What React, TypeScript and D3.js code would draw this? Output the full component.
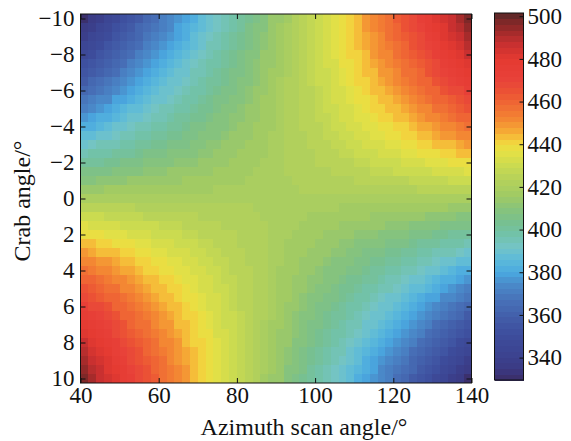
import React, { useRef, useEffect } from "react";
import * as d3 from "d3";

// cell centres (azimuth scan angle, deg) and rows (crab angle, deg)
const azimuth = [41, 43, 45, 47, 49, 51, 53, 55, 57, 59, 61, 63, 65, 67, 69, 71, 73, 75, 77, 79, 81, 83, 85, 87, 89,
  91, 93, 95, 97, 99, 101, 103, 105, 107, 109, 111, 113, 115, 117, 119, 121, 123, 125, 127, 129, 131, 133, 135, 137, 139];
const crab = [-10, -9.5, -9, -8.5, -8, -7.5, -7, -6.5, -6, -5.5, -5, -4.5, -4, -3.5, -3, -2.5, -2, -1.5, -1, -0.5, 0,
  0.5, 1, 1.5, 2, 2.5, 3, 3.5, 4, 4.5, 5, 5.5, 6, 6.5, 7, 7.5, 8, 8.5, 9, 9.5, 10];

// values, one row per crab angle (top to bottom)
const values = [
  [331,335,340,344,348,352,355,359,363,366,370,373,376,380,383,386,389,392,395,398,401,404,407,410,413,415,418,421,424,427,430,433,436,439,442,445,448,452,455,458,462,465,469,473,476,480,484,488,493,497],
  [335,339,343,347,351,355,358,362,365,369,372,375,378,381,385,388,391,393,396,399,402,405,408,410,413,416,419,422,424,427,430,433,436,439,442,445,448,451,454,457,461,464,467,471,475,478,482,486,490,494],
  [339,343,347,350,354,358,361,364,368,371,374,377,380,383,386,389,392,395,398,400,403,406,408,411,414,416,419,422,424,427,430,433,435,438,441,444,447,450,453,456,459,462,466,469,473,476,480,484,487,491],
  [343,347,350,354,357,361,364,367,371,374,377,380,383,385,388,391,394,396,399,402,404,407,409,412,414,417,420,422,425,427,430,432,435,438,440,443,446,449,452,455,458,461,464,467,471,474,478,481,485,489],
  [347,350,354,357,361,364,367,370,373,376,379,382,385,387,390,393,395,398,400,403,405,408,410,413,415,417,420,422,425,427,430,432,435,437,440,442,445,448,451,453,456,459,462,465,468,472,475,478,482,486],
  [351,354,358,361,364,367,370,373,376,379,381,384,387,389,392,394,397,399,402,404,406,409,411,413,415,418,420,422,425,427,429,432,434,437,439,441,444,447,449,452,455,457,460,463,466,469,472,476,479,482],
  [355,358,361,364,367,370,373,376,379,381,384,386,389,391,394,396,398,401,403,405,407,409,412,414,416,418,420,423,425,427,429,431,434,436,438,441,443,445,448,450,453,456,458,461,464,467,470,473,476,479],
  [359,362,365,368,371,374,376,379,381,384,386,389,391,393,395,398,400,402,404,406,408,410,412,414,416,419,421,423,425,427,429,431,433,435,437,440,442,444,446,449,451,454,456,459,461,464,467,470,473,476],
  [363,366,369,372,374,377,379,382,384,386,389,391,393,395,397,399,401,403,405,407,409,411,413,415,417,419,421,423,424,426,428,430,432,434,436,438,440,443,445,447,449,452,454,456,459,461,464,467,469,472],
  [368,370,373,375,378,380,383,385,387,389,391,393,395,397,399,401,403,405,407,408,410,412,414,416,417,419,421,423,424,426,428,430,432,433,435,437,439,441,443,445,447,449,452,454,456,459,461,463,466,469],
  [372,375,377,379,381,384,386,388,390,392,394,396,397,399,401,403,404,406,408,410,411,413,414,416,418,419,421,423,424,426,427,429,431,433,434,436,438,440,441,443,445,447,449,451,453,456,458,460,462,465],
  [377,379,381,383,385,387,389,391,393,394,396,398,400,401,403,404,406,408,409,411,412,414,415,417,418,420,421,422,424,425,427,428,430,432,433,435,436,438,440,441,443,445,447,449,451,452,455,457,459,461],
  [381,383,385,387,389,391,392,394,396,397,399,400,402,403,405,406,408,409,410,412,413,414,416,417,418,420,421,422,424,425,426,428,429,430,432,433,435,436,438,439,441,442,444,446,447,449,451,453,455,457],
  [386,388,389,391,393,394,396,397,399,400,401,403,404,405,407,408,409,410,412,413,414,415,416,418,419,420,421,422,423,425,426,427,428,429,431,432,433,435,436,437,439,440,441,443,444,446,448,449,451,453],
  [391,392,394,395,396,398,399,400,402,403,404,405,406,407,409,410,411,412,413,414,415,416,417,418,419,420,421,422,423,424,425,426,427,428,429,430,432,433,434,435,436,437,439,440,441,443,444,445,447,448],
  [395,397,398,399,400,401,402,403,405,406,407,408,409,409,410,411,412,413,414,415,416,417,417,418,419,420,421,422,423,423,424,425,426,427,428,429,430,431,432,433,434,435,436,437,438,439,440,441,443,444],
  [400,401,402,403,404,405,406,407,408,408,409,410,411,412,412,413,414,415,415,416,417,417,418,419,419,420,421,422,422,423,424,424,425,426,426,427,428,429,430,430,431,432,433,434,435,436,436,437,438,439],
  [405,406,407,407,408,409,409,410,411,411,412,413,413,414,414,415,415,416,416,417,418,418,419,419,420,420,421,421,422,422,423,423,424,424,425,426,426,427,427,428,429,429,430,430,431,432,433,433,434,435],
  [410,410,411,411,412,412,413,413,414,414,415,415,415,416,416,416,417,417,418,418,418,419,419,419,420,420,420,421,421,421,422,422,423,423,423,424,424,424,425,425,426,426,427,427,427,428,428,429,429,430],
  [415,415,415,416,416,416,416,417,417,417,417,417,418,418,418,418,418,419,419,419,419,419,420,420,420,420,420,420,421,421,421,421,421,422,422,422,422,422,423,423,423,423,423,424,424,424,424,425,425,425],
  [420,420,420,420,420,420,420,420,420,420,420,420,420,420,420,420,420,420,420,420,420,420,420,420,420,420,420,420,420,420,420,420,420,420,420,420,420,420,420,420,420,420,420,420,420,420,420,420,420,420],
  [425,425,425,424,424,424,424,423,423,423,423,423,422,422,422,422,422,421,421,421,421,421,420,420,420,420,420,420,419,419,419,419,419,418,418,418,418,418,417,417,417,417,417,416,416,416,416,415,415,415],
  [430,429,429,428,428,427,427,427,426,426,425,425,424,424,424,423,423,423,422,422,421,421,421,420,420,420,419,419,419,418,418,418,417,417,416,416,416,415,415,415,414,414,413,413,412,412,411,411,410,410],
  [435,434,433,433,432,431,430,430,429,429,428,427,427,426,426,425,424,424,423,423,422,422,421,421,420,420,419,419,418,418,417,416,416,415,415,414,414,413,413,412,411,411,410,409,409,408,407,407,406,405],
  [439,438,437,436,436,435,434,433,432,431,430,430,429,428,427,426,426,425,424,424,423,422,422,421,420,419,419,418,417,417,416,415,415,414,413,412,412,411,410,409,408,408,407,406,405,404,403,402,401,400],
  [444,443,441,440,439,438,437,436,435,434,433,432,431,430,429,428,427,426,425,424,423,423,422,421,420,419,418,417,417,416,415,414,413,412,411,410,409,409,408,407,406,405,403,402,401,400,399,398,397,395],
  [448,447,445,444,443,441,440,439,437,436,435,434,433,432,430,429,428,427,426,425,424,423,422,421,420,419,418,417,416,415,414,413,412,411,410,409,407,406,405,404,403,402,400,399,398,396,395,394,392,391],
  [453,451,449,448,446,444,443,441,440,439,437,436,435,433,432,431,429,428,427,426,425,423,422,421,420,419,418,416,415,414,413,412,410,409,408,407,405,404,403,401,400,399,397,396,394,393,391,389,388,386],
  [457,455,453,451,449,447,446,444,442,441,439,438,436,435,433,432,430,429,428,426,425,424,422,421,420,418,417,416,414,413,412,410,409,408,406,405,403,402,400,399,397,396,394,392,391,389,387,385,383,381],
  [461,459,457,455,452,451,449,447,445,443,441,440,438,436,435,433,432,430,428,427,425,424,422,421,420,418,417,415,414,412,411,409,408,406,404,403,401,400,398,396,394,393,391,389,387,385,383,381,379,377],
  [465,462,460,458,456,453,451,449,447,445,443,441,440,438,436,434,433,431,429,427,426,424,423,421,419,418,416,414,413,411,410,408,406,404,403,401,399,397,396,394,392,390,388,386,384,381,379,377,375,372],
  [469,466,463,461,459,456,454,452,449,447,445,443,441,439,437,435,433,432,430,428,426,424,423,421,419,417,416,414,412,410,408,407,405,403,401,399,397,395,393,391,389,387,385,383,380,378,375,373,370,368],
  [472,469,467,464,461,459,456,454,452,449,447,445,443,440,438,436,434,432,430,428,426,424,423,421,419,417,415,413,411,409,407,405,403,401,399,397,395,393,391,389,386,384,382,379,377,374,372,369,366,363],
  [476,473,470,467,464,461,459,456,454,451,449,446,444,442,440,437,435,433,431,429,427,425,423,421,419,416,414,412,410,408,406,404,402,400,398,395,393,391,389,386,384,381,379,376,374,371,368,365,362,359],
  [479,476,473,470,467,464,461,458,456,453,450,448,445,443,441,438,436,434,431,429,427,425,423,420,418,416,414,412,409,407,405,403,401,398,396,394,391,389,386,384,381,379,376,373,370,367,364,361,358,355],
  [482,479,476,472,469,466,463,460,457,455,452,449,447,444,441,439,437,434,432,429,427,425,422,420,418,415,413,411,409,406,404,402,399,397,394,392,389,387,384,381,379,376,373,370,367,364,361,358,354,351],
  [486,482,478,475,472,468,465,462,459,456,453,451,448,445,442,440,437,435,432,430,427,425,422,420,417,415,413,410,408,405,403,400,398,395,393,390,387,385,382,379,376,373,370,367,364,361,357,354,350,347],
  [489,485,481,478,474,471,467,464,461,458,455,452,449,446,443,440,438,435,432,430,427,425,422,420,417,414,412,409,407,404,402,399,396,394,391,388,385,383,380,377,374,371,367,364,361,357,354,350,347,343],
  [491,487,484,480,476,473,469,466,462,459,456,453,450,447,444,441,438,435,433,430,427,424,422,419,416,414,411,408,406,403,400,398,395,392,389,386,383,380,377,374,371,368,364,361,358,354,350,347,343,339],
  [494,490,486,482,478,475,471,467,464,461,457,454,451,448,445,442,439,436,433,430,427,424,422,419,416,413,410,408,405,402,399,396,393,391,388,385,381,378,375,372,369,365,362,358,355,351,347,343,339,335],
  [497,493,488,484,480,476,473,469,465,462,458,455,452,448,445,442,439,436,433,430,427,424,421,418,415,413,410,407,404,401,398,395,392,389,386,383,380,376,373,370,366,363,359,355,352,348,344,340,335,331],
];

const xTicks = [40, 60, 80, 100, 120, 140];
const yTicks = [-10, -8, -6, -4, -2, 0, 2, 4, 6, 8, 10];
const barTicks = [340, 360, 380, 400, 420, 440, 460, 480, 500];
const valueRange = [329.5, 501.5];

// colormap
const colorValues = [329, 335, 343, 352, 360, 368, 375, 380, 386, 392, 398, 404, 410, 416, 424, 430, 436, 440, 443, 447, 452, 458, 464, 470, 480, 487, 493, 498, 501];
const colorHex = ["#3b2b63", "#3b3a84", "#3c4592", "#3e4f9e", "#4360ab", "#4874ba", "#4a8ccb", "#4aa8e0", "#5cbada", "#74c4c6",
  "#72c2a8", "#78c08e", "#88c47a", "#a0ca64", "#b6d25a", "#cadb50", "#e2e046", "#f0dc40", "#f5c23a", "#f5a434",
  "#f38633", "#f06c34", "#ec5534", "#e8423a", "#e43a31", "#c83030", "#a02a2a", "#7a2828", "#5a2828"];

const FONT = "'Liberation Serif', 'Times New Roman', serif";

export default function App() {
  const ref = useRef<SVGSVGElement>(null);

  useEffect(() => {
    const svg = d3.select(ref.current);
    svg.selectAll("*").remove();

    const left = 80.5, right = 471.5, top = 14, bottom = 383;
    const x = d3.scaleLinear().domain([40, 140]).range([left, right]);
    const y = d3.scaleLinear().domain([-10.25, 10.25]).range([top, bottom]);

    const color = d3.scaleLinear<string>().domain(colorValues).range(colorHex)
      .interpolate(d3.interpolateRgb).clamp(true);
    const levels = 64;
    const [cMin, cMax] = valueRange;
    const step = (cMax - cMin) / levels;
    const level = (v: number) => Math.max(0, Math.min(levels - 1, Math.floor((v - cMin) / step)));
    const quant = (v: number) => color(cMin + (level(v) + 0.5) * step);

    // heat map cells
    const cells: { a: number; c: number; v: number }[] = [];
    values.forEach((row, j) => row.forEach((v, i) => cells.push({ a: azimuth[i], c: crab[j], v })));

    svg.append("clipPath").attr("id", "plotclip")
      .append("rect").attr("x", left).attr("y", top).attr("width", right - left).attr("height", bottom - top);

    const cw = x(42) - x(40);
    const ch = y(0.5) - y(0);
    svg.append("g").attr("clip-path", "url(#plotclip)").attr("shape-rendering", "crispEdges")
      .selectAll("rect").data(cells).join("rect")
      .attr("x", (d) => x(d.a) - cw / 2)
      .attr("y", (d) => y(d.c) - ch / 2)
      .attr("width", cw + 0.6)
      .attr("height", ch + 0.6)
      .attr("fill", (d) => quant(d.v));

    const styleAxis = (g: any) => {
      g.select(".domain").remove();
      g.selectAll("line").attr("stroke", "#111");
      g.selectAll("text").attr("font-family", FONT).attr("font-size", 23).attr("fill", "#111");
    };
    const fmt = (d: any) => (d < 0 ? "\u2212" + Math.abs(d) : String(d));

    svg.append("g").attr("transform", `translate(0,${bottom})`)
      .call(d3.axisBottom(x).tickValues(xTicks).tickSizeInner(-5).tickSizeOuter(0).tickPadding(4).tickFormat(fmt))
      .call(styleAxis);
    svg.append("g").attr("transform", `translate(0,${top})`)
      .call(d3.axisTop(x).tickValues(xTicks).tickSizeInner(-5).tickSizeOuter(0).tickFormat(() => ""))
      .call(styleAxis);
    svg.append("g").attr("transform", `translate(${left},0)`)
      .call(d3.axisLeft(y).tickValues(yTicks).tickSizeInner(-5).tickSizeOuter(0).tickPadding(6).tickFormat(fmt))
      .call(styleAxis);
    svg.append("g").attr("transform", `translate(${right},0)`)
      .call(d3.axisRight(y).tickValues(yTicks).tickSizeInner(-5).tickSizeOuter(0).tickFormat(() => ""))
      .call(styleAxis);

    svg.append("rect").attr("x", left).attr("y", top).attr("width", right - left).attr("height", bottom - top)
      .attr("fill", "none").attr("stroke", "#111").attr("stroke-width", 1);

    // colour bar
    const cbL = 494.5, cbR = 523.5, cbT = 13, cbB = 380;
    const cb = d3.scaleLinear().domain(valueRange).range([cbB, cbT]);
    svg.append("g").attr("shape-rendering", "crispEdges")
      .selectAll("rect").data(d3.range(levels)).join("rect")
      .attr("x", cbL).attr("width", cbR - cbL)
      .attr("y", (k) => cb(cMin + (k + 1) * step))
      .attr("height", (k) => cb(cMin + k * step) - cb(cMin + (k + 1) * step) + 0.5)
      .attr("fill", (k) => color(cMin + (k + 0.5) * step));
    svg.append("g").attr("transform", `translate(${cbR},0)`)
      .call(d3.axisRight(cb).tickValues(barTicks).tickSizeInner(-4).tickSizeOuter(0).tickPadding(4))
      .call(styleAxis);
    svg.append("rect").attr("x", cbL).attr("y", cbT).attr("width", cbR - cbL).attr("height", cbB - cbT)
      .attr("fill", "none").attr("stroke", "#111").attr("stroke-width", 1);

    // axis titles
    svg.append("text").attr("x", 304).attr("y", 435).attr("text-anchor", "middle")
      .attr("font-family", FONT).attr("font-size", 24).attr("fill", "#111")
      .text("Azimuth scan angle/\u00b0");
    svg.append("text").attr("transform", "translate(30,201) rotate(-90)").attr("text-anchor", "middle")
      .attr("font-family", FONT).attr("font-size", 24).attr("fill", "#111")
      .text("Crab angle/\u00b0");
  }, []);

  return (
    <div style={{ position: "absolute", left: 0, top: 0 }}>
      <svg ref={ref} width={571} height={441} style={{ display: "block", background: "#fff" }} />
    </div>
  );
}
